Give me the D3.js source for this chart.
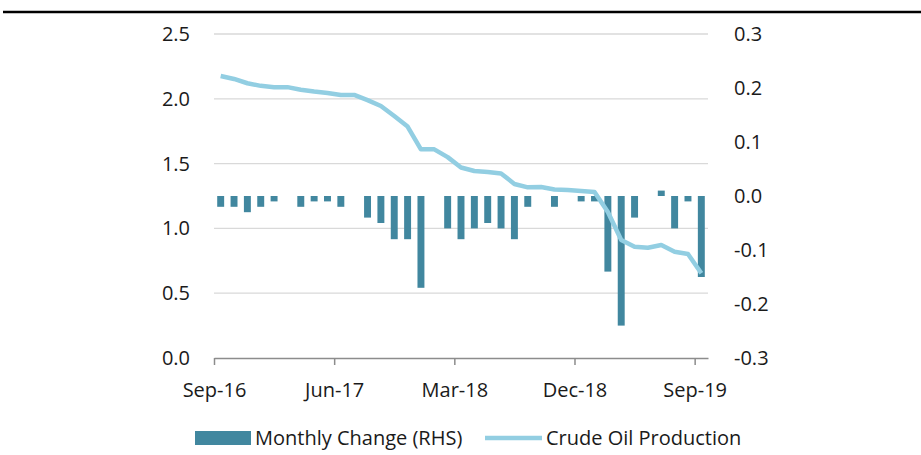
<!DOCTYPE html>
<head>
	<meta charset="utf-8">
	<title>Crude Oil Production</title>
	<script src="https://d3js.org/d3.v7.min.js"></script>
	<style>
		body{
			margin: 0;
			background-color: white;
		}
		text{
			font-family: 'Open Sans', sans-serif;
			font-size: 20px;
			fill: #1a1a1a;
		}
	</style>
</head>
<body>
	<div id="chart"></div>

	<script>
		var width = 921;
		var height = 455;

		// months Sep-16 .. Sep-19
		var months = d3.timeMonth.range(new Date(2016, 8, 1), new Date(2019, 9, 1));
		var tickLabels = ["Sep-16", "Jun-17", "Mar-18", "Dec-18", "Sep-19"];
		var tickIndex = [0, 9, 18, 27, 36];

		// crude oil production (left axis)
		var production = [2.176, 2.153, 2.12, 2.10, 2.09, 2.09, 2.07, 2.056, 2.045, 2.03,
			2.03, 1.99, 1.944, 1.867, 1.786, 1.61, 1.61, 1.55, 1.47, 1.443,
			1.435, 1.424, 1.343, 1.317, 1.32, 1.30, 1.296, 1.289, 1.281, 1.127,
			0.91, 0.859, 0.851, 0.872, 0.82, 0.802, 0.654];

		// monthly change (right axis)
		var change = [-0.02, -0.02, -0.03, -0.02, -0.01, 0, -0.02, -0.01, -0.01, -0.02,
			0, -0.04, -0.05, -0.08, -0.08, -0.17, 0, -0.06, -0.08, -0.06,
			-0.05, -0.06, -0.08, -0.02, 0, -0.02, 0, -0.01, -0.01, -0.14,
			-0.24, -0.04, 0, 0.01, -0.06, -0.01, -0.15];

		var leftTicks = [0, 0.5, 1, 1.5, 2, 2.5];
		var rightTicks = [-0.3, -0.2, -0.1, 0, 0.1, 0.2, 0.3];

		// plot area (named so it does not clash with window.top)
		var plotLeft = 214, plotRight = 708, plotTop = 34, plotBottom = 358;

		var svg = d3.select("#chart").append("svg")
			.attr("width", width)
			.attr("height", height);

		// black rule at the top
		svg.append("line")
			.attr("x1", 3).attr("x2", width)
			.attr("y1", 12).attr("y2", 12)
			.attr("stroke", "black")
			.attr("stroke-width", 2.5);

		var x = d3.scaleBand()
			.domain(months)
			.range([plotLeft, plotRight])
			.paddingInner(0.48)
			.paddingOuter(0.24);

		var xIdx = d3.scaleLinear().domain([0, months.length]).range([plotLeft, plotRight]);

		var yLeft = d3.scaleLinear().domain([0, 2.5]).range([plotBottom, plotTop]);
		var yRight = d3.scaleLinear().domain([-0.3, 0.3]).range([plotBottom, plotTop]);

		// gridlines
		svg.append("g")
			.selectAll("line")
			.data(leftTicks.slice(1))
			.enter().append("line")
			.attr("x1", plotLeft).attr("x2", plotRight)
			.attr("y1", function(d){ return yLeft(d); })
			.attr("y2", function(d){ return yLeft(d); })
			.attr("stroke", "#d9d9d9")
			.attr("stroke-width", 1.3);

		// left axis labels
		var yAxisL = d3.axisLeft(yLeft).tickValues(leftTicks).tickSize(0).tickPadding(24)
			.tickFormat(d3.format(".1f"));
		svg.append("g")
			.attr("transform", "translate(" + plotLeft + ",0)")
			.call(yAxisL)
			.call(function(g){ g.select(".domain").remove(); });

		// right axis labels
		var yAxisR = d3.axisRight(yRight).tickValues(rightTicks).tickSize(0).tickPadding(26)
			.tickFormat(function(d){ return d3.format(".1f")(d).replace("−", "-"); });
		svg.append("g")
			.attr("transform", "translate(" + plotRight + ",0)")
			.call(yAxisR)
			.call(function(g){ g.select(".domain").remove(); });

		// bars
		svg.append("g")
			.selectAll("rect")
			.data(change)
			.enter().append("rect")
			.attr("x", function(d, i){ return x(months[i]); })
			.attr("width", x.bandwidth())
			.attr("y", function(d){ return yRight(Math.max(0, d)); })
			.attr("height", function(d){ return Math.abs(yRight(d) - yRight(0)); })
			.attr("fill", "#41879f");

		// line
		var line = d3.line()
			.x(function(d, i){ return x(months[i]) + x.bandwidth() / 2; })
			.y(function(d){ return yLeft(d); });

		svg.append("path")
			.datum(production)
			.attr("d", line)
			.attr("fill", "none")
			.attr("stroke", "#92cee2")
			.attr("stroke-width", 4.5)
			.attr("stroke-linejoin", "round");

		// x axis
		var xAxis = d3.axisBottom(xIdx)
			.tickValues(tickIndex)
			.tickSizeInner(7)
			.tickSizeOuter(0)
			.tickPadding(18)
			.tickFormat(function(d, i){ return tickLabels[i]; });

		var gx = svg.append("g")
			.attr("transform", "translate(0," + plotBottom + ")")
			.call(xAxis);
		gx.select(".domain").attr("stroke", "#8c8c8c").attr("stroke-width", 1.5);
		gx.selectAll(".tick line").attr("stroke", "#8c8c8c").attr("stroke-width", 1.5);

		svg.selectAll(".tick text")
			.attr("fill", null)
			.attr("font-size", null)
			.attr("font-family", null);

		// legend
		var legend = svg.append("g").attr("transform", "translate(0,438)");
		legend.append("rect")
			.attr("x", 195).attr("y", -7)
			.attr("width", 56).attr("height", 14)
			.attr("fill", "#41879f");
		legend.append("text")
			.attr("x", 255).attr("y", 7)
			.text("Monthly Change (RHS)");
		legend.append("line")
			.attr("x1", 485).attr("x2", 542)
			.attr("y1", 0).attr("y2", 0)
			.attr("stroke", "#92cee2")
			.attr("stroke-width", 4.5);
		legend.append("text")
			.attr("x", 546).attr("y", 7)
			.text("Crude Oil Production");
	</script>
</body>
